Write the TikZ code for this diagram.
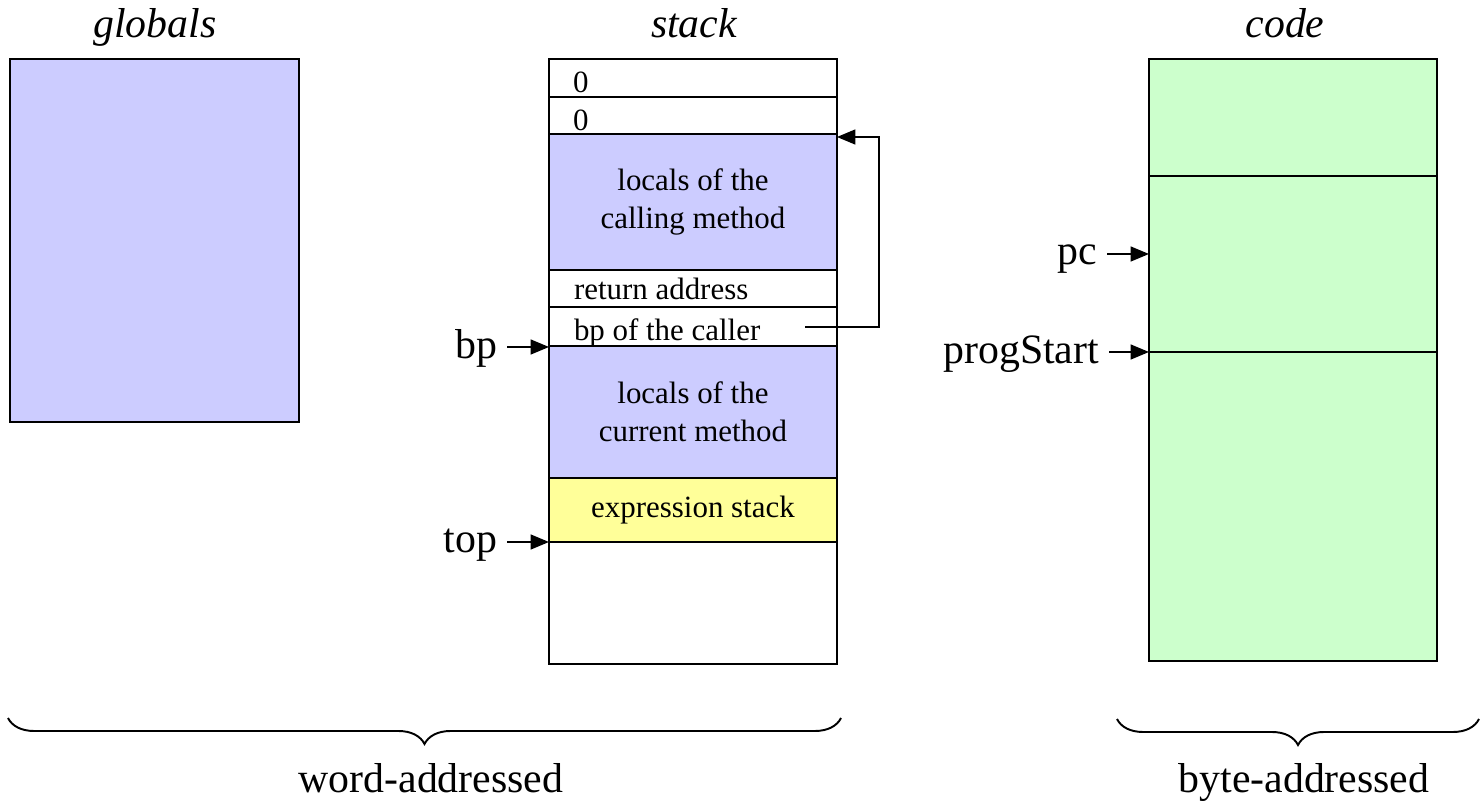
\documentclass[tikz,border=0pt]{standalone}
\usepackage{fontspec}
\setmainfont{Liberation Serif}
\usetikzlibrary{arrows.meta,decorations.pathreplacing}
\definecolor{wordfill}{HTML}{CCCCFF}
\definecolor{codefill}{HTML}{CCFFCC}
\definecolor{exprfill}{HTML}{FFFF99}
\tikzset{
  cell/.style={draw=black, line width=1pt, inner sep=0pt, outer sep=0pt,
    anchor=north west, minimum width=5.76cm, align=center,
    font=\fontsize{17.6}{21.5}\selectfont},
  bigtext/.style={font=\fontsize{23.8}{28}\selectfont, inner sep=0pt, outer sep=0pt},
  smalltext/.style={font=\fontsize{17.6}{21.5}\selectfont, inner sep=0pt, outer sep=0pt},
  title/.style={font=\fontsize{23.8}{28}\selectfont\itshape, inner sep=0pt, anchor=base},
  ptr/.style={line width=1pt, -{Triangle[length=10.5pt,width=8.5pt]}},
  bracepath/.style={decorate, decoration={brace, mirror, amplitude=0.52cm}, line width=1.1pt},
}
\begin{document}
\begin{tikzpicture}[x=0.02cm, y=-0.02cm]
\useasboundingbox (0,0) rectangle (1481,803);

% titles
\node[title] (tglob) at (155,38) {globals};
\node[title] (tstack) at (694,38) {stack};
\node[title] (tcode) at (1285,38) {code};

% global data area
\node[cell, fill=wordfill, minimum width=5.78cm, minimum height=7.26cm] (glob) at (10,59) {};

% stack frames
\node[cell, minimum height=0.76cm] (zero1) at (549,59) {};
\node[cell, minimum height=0.74cm] (zero2) at (549,97) {};
\node[cell, fill=wordfill, minimum height=2.72cm] (calllocals) at (549,134) {locals of the\\calling method};
\node[cell, minimum height=0.74cm] (retaddr) at (549,270) {};
\node[cell, minimum height=0.78cm] (callerbp) at (549,307) {};
\node[cell, fill=wordfill, minimum height=2.64cm] (curlocals) at (549,346) {locals of the\\current method};
\node[cell, fill=exprfill, minimum height=1.28cm] (exprstack) at (549,478) {expression stack};
\node[cell, minimum height=2.44cm] (freestack) at (549,542) {};

\node[smalltext, anchor=base west] (lzero1) at (573,93) {0};
\node[smalltext, anchor=base west] (lzero2) at (573,131) {0};
\node[smalltext, anchor=base west] (lret) at (574,300) {return address};
\node[smalltext, anchor=base west] (lbp) at (574,341) {bp of the caller};

% code area
\node[cell, fill=codefill, minimum height=2.34cm] (code1) at (1149,59) {};
\node[cell, fill=codefill, minimum height=3.52cm] (code2) at (1149,176) {};
\node[cell, fill=codefill, minimum height=6.18cm] (code3) at (1149,352) {};

% saved frame pointer links back to the caller's frame
\coordinate (callerptr) at (805,327);
\draw[ptr] (callerptr) -- ++(74,0) |- ([yshift=-0.06cm]calllocals.north east);

% registers
\node[bigtext, anchor=base east] (regbp) at (497,359) {bp};
\node[bigtext, anchor=base east] (regtop) at (497,553) {top};
\node[bigtext, anchor=base east] (regpc) at (1097,265) {pc};
\node[bigtext, anchor=base east] (regps) at (1099,364) {progStart};

\coordinate (bptail) at (507,347);
\coordinate (toptail) at (507,542);
\coordinate (pctail) at (1107,254);
\coordinate (pstail) at (1109,352);
\draw[ptr] (bptail) -- (bptail -| curlocals.west);
\draw[ptr] (toptail) -- (toptail -| freestack.west);
\draw[ptr] (pctail) -- (pctail -| code2.west);
\draw[ptr] (pstail) -- (pstail -| code3.west);

% addressing braces
\coordinate (wordL) at (8,718);
\coordinate (wordR) at (841,718);
\coordinate (byteL) at (1117,719);
\coordinate (byteR) at (1479,719);
\draw[bracepath] (wordL) -- (wordR);
\draw[bracepath] (byteL) -- (byteR);
\node[bigtext, anchor=base] (wordlbl) at (431,792) {word-addressed};
\node[bigtext, anchor=base] (bytelbl) at (1304,792) {byte-addressed};
\end{tikzpicture}
\end{document}
